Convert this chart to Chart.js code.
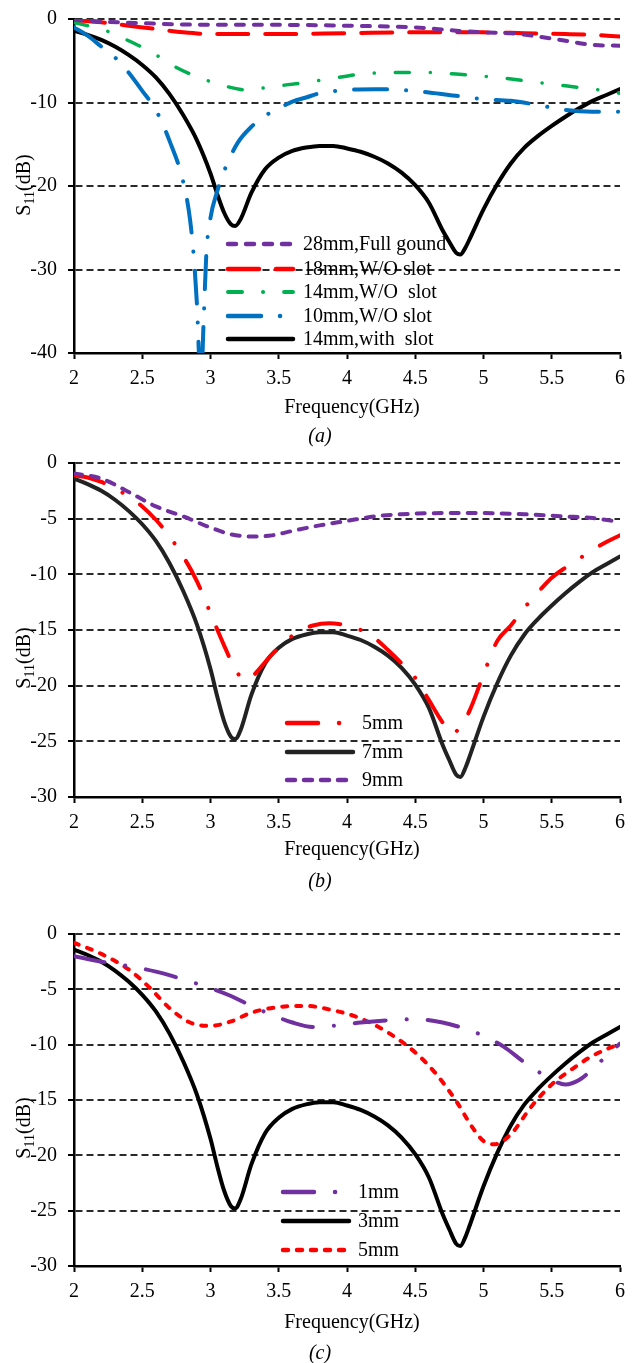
<!DOCTYPE html>
<html>
<head>
<meta charset="utf-8">
<script src="https://cdn.jsdelivr.net/npm/chart.js@4.4.1/dist/chart.umd.min.js"></script>
<style>
  body { margin: 0; background: #fff; }
  .panel { position: absolute; left: 0; }
</style>
</head>
<body>
<canvas id="chartA" class="panel" width="639" height="454" style="top:-4px"></canvas>
<canvas id="chartB" class="panel" width="639" height="460" style="top:440px"></canvas>
<canvas id="chartC" class="panel" width="639" height="452" style="top:911px"></canvas>
<script>
// black curve (same antenna in all three panels)
const freqSlot = [2.0, 2.1, 2.2, 2.3, 2.4, 2.5, 2.6, 2.7, 2.8, 2.9, 3.0, 3.05, 3.1, 3.15, 3.18, 3.22, 3.3, 3.4, 3.5, 3.6, 3.7, 3.8, 3.9, 4.0, 4.1, 4.2, 4.3, 4.4, 4.5, 4.6, 4.7, 4.75, 4.8, 4.83, 4.87, 4.9, 5.0, 5.1, 5.2, 5.3, 5.4, 5.5, 5.6, 5.7, 5.8, 5.9, 6.0];
const s11Slot = [-1.4, -1.9, -2.5, -3.3, -4.3, -5.5, -7.0, -9.0, -11.5, -14.5, -18.5, -21, -23.2, -24.6, -24.8, -24.0, -20.8, -18.0, -16.6, -15.8, -15.4, -15.2, -15.2, -15.5, -15.9, -16.5, -17.3, -18.4, -19.9, -22.0, -25.3, -26.7, -28.0, -28.2, -27.3, -26.3, -22.8, -19.8, -17.3, -15.4, -14.0, -12.8, -11.7, -10.7, -9.8, -9.1, -8.4];

// (a)
const freqFull28 = [2.0, 2.2, 2.5, 3.0, 3.5, 4.0, 4.3, 4.5, 4.8, 5.0, 5.2, 5.4, 5.6, 5.8, 6.0];
const s11Full28 = [-0.1, -0.3, -0.5, -0.7, -0.7, -0.8, -0.9, -1.0, -1.4, -1.6, -1.7, -2.1, -2.6, -3.1, -3.2];
const freqNoSlot18 = [2.0, 2.2, 2.4, 2.6, 2.8, 3.0, 3.2, 3.5, 4.0, 4.5, 4.8, 5.0, 5.3, 5.6, 5.8, 6.0];
const s11NoSlot18 = [-0.1, -0.4, -0.8, -1.2, -1.6, -1.8, -1.8, -1.8, -1.7, -1.6, -1.6, -1.6, -1.7, -1.8, -1.9, -2.1];
const freqNoSlot14 = [2.0, 2.1, 2.25, 2.4, 2.57, 2.75, 2.9, 3.1, 3.27, 3.45, 3.65, 3.9, 4.1, 4.4, 4.6, 4.8, 5.1, 5.4, 5.6, 5.85, 6.0];
const s11NoSlot14 = [-0.4, -0.8, -1.5, -2.6, -4.0, -5.8, -6.9, -8.0, -8.5, -8.1, -7.7, -7.1, -6.6, -6.4, -6.4, -6.6, -7.0, -7.6, -8.0, -8.5, -8.9];
const freqNoSlot10 = [2.0, 2.1, 2.2, 2.3, 2.4, 2.5, 2.6, 2.7, 2.8, 2.85, 2.88, 2.9, 2.93, 2.95, 2.97, 3.0, 3.05, 3.1, 3.2, 3.3, 3.4, 3.5, 3.6, 3.7, 3.8, 4.0, 4.2, 4.4, 4.6, 4.8, 5.0, 5.2, 5.4, 5.6, 5.8, 6.0];
const s11NoSlot10 = [-1.0, -2.0, -3.3, -4.6, -6.4, -8.6, -10.9, -14.6, -19.5, -24, -29, -34, -44, -36, -28, -23.8, -20.6, -18.2, -14.8, -12.9, -11.6, -10.7, -9.9, -9.4, -8.9, -8.5, -8.4, -8.5, -8.8, -9.2, -9.6, -9.8, -10.3, -10.9, -11.1, -11.1];

// (b)
const freqW5 = [2.0, 2.1, 2.2, 2.3, 2.4, 2.5, 2.6, 2.7, 2.8, 2.9, 3.0, 3.1, 3.2, 3.27, 3.35, 3.45, 3.55, 3.65, 3.75, 3.87, 4.0, 4.1, 4.2, 4.3, 4.4, 4.5, 4.6, 4.7, 4.77, 4.83, 4.9, 5.0, 5.1, 5.2, 5.3, 5.4, 5.5, 5.6, 5.7, 5.8, 5.9, 6.0];
const s11W5 = [-1.1, -1.3, -1.7, -2.3, -3.0, -3.9, -5.1, -6.6, -8.4, -10.6, -13.5, -16.4, -18.9, -19.5, -18.6, -17.2, -16.0, -15.1, -14.6, -14.4, -14.6, -15.0, -15.7, -16.8, -18.0, -19.3, -21.3, -23.3, -24.3, -23.7, -22.2, -19.0, -16.0, -14.6, -13.0, -11.6, -10.3, -9.4, -8.6, -7.8, -7.1, -6.5];
const freqW9 = [2.0, 2.2, 2.4, 2.6, 2.8, 3.0, 3.15, 3.3, 3.45, 3.6, 3.8, 4.0, 4.2, 4.4, 4.7, 5.0, 5.3, 5.6, 5.8, 6.0];
const s11W9 = [-0.95, -1.4, -2.6, -3.9, -4.8, -5.8, -6.4, -6.6, -6.5, -6.1, -5.6, -5.2, -4.8, -4.6, -4.5, -4.5, -4.6, -4.8, -4.95, -5.3];

// (c)
const freqL1 = [2.0, 2.2, 2.4, 2.6, 2.8, 3.0, 3.15, 3.3, 3.45, 3.6, 3.75, 3.9, 4.1, 4.3, 4.5, 4.7, 4.85, 5.0, 5.15, 5.3, 5.45, 5.6, 5.7, 5.85, 6.0];
const s11L1 = [-2.0, -2.5, -2.9, -3.4, -4.1, -4.9, -5.6, -6.5, -7.3, -8.0, -8.4, -8.3, -8.0, -7.8, -7.7, -8.0, -8.5, -9.2, -10.2, -11.6, -12.8, -13.6, -13.2, -11.6, -9.9];
const freqL5 = [2.0, 2.2, 2.4, 2.55, 2.7, 2.85, 3.0, 3.15, 3.3, 3.5, 3.7, 3.9, 4.05, 4.2, 4.35, 4.5, 4.65, 4.8, 4.92, 5.0, 5.08, 5.2, 5.35, 5.5, 5.65, 5.8, 6.0];
const s11L5 = [-0.8, -1.8, -3.2, -4.8, -6.7, -8.0, -8.3, -7.9, -7.1, -6.6, -6.5, -6.9, -7.4, -8.2, -9.3, -10.7, -12.6, -15.1, -17.5, -18.7, -19.0, -18.1, -15.6, -13.6, -12.2, -11.0, -9.9];

const PURPLE = '#7030A0', RED = '#FF0000', GREEN = '#00B050', BLUE = '#0070C0';
const SERIF = "'Liberation Serif', 'Times New Roman', serif";

function pts(freq, vals) {
    return freq.map((f, i) => ({ x: f, y: vals[i] }));
}

function line(label, freq, vals, color, width, dash) {
    return {
        label: label,
        data: pts(freq, vals),
        borderColor: color,
        borderWidth: width,
        borderDash: dash,
        borderCapStyle: 'round',
        borderJoinStyle: 'round',
        pointRadius: 0,
        fill: false,
        cubicInterpolationMode: 'monotone'
    };
}

const paperText = {
    id: 'paperText',
    afterDatasetsDraw(chart, args, opts) {
        const ctx = chart.ctx;
        ctx.save();
        // legend, drawn inside the plot
        ctx.font = '20px ' + SERIF;
        ctx.textBaseline = 'middle';
        ctx.textAlign = 'left';
        ctx.fillStyle = '#000';
        opts.legendOrder.forEach((dsIndex, i) => {
            const ds = chart.data.datasets[dsIndex];
            const y = opts.legendRows[i];
            ctx.save();
            ctx.strokeStyle = ds.borderColor;
            ctx.lineWidth = ds.borderWidth + 0.5;
            ctx.lineCap = 'round';
            ctx.setLineDash(ds.borderDash || []);
            ctx.beginPath();
            ctx.moveTo(opts.legendX0, y);
            ctx.lineTo(opts.legendX1, y);
            ctx.stroke();
            ctx.restore();
            ctx.fillText(ds.label, opts.legendText, y + 1);
        });
        // x title and caption
        ctx.textAlign = 'center';
        ctx.font = '20px ' + SERIF;
        ctx.fillText('Frequency(GHz)', 352, opts.xTitleY);
        ctx.font = 'italic 20px ' + SERIF;
        ctx.fillText(opts.caption, 320, opts.captionY);
        // y title with subscript
        ctx.translate(23, opts.yTitleY);
        ctx.rotate(-Math.PI / 2);
        ctx.textAlign = 'left';
        ctx.textBaseline = 'alphabetic';
        const big = '20px ' + SERIF, small = '14px ' + SERIF;
        ctx.font = big;
        const wS = ctx.measureText('S').width, wB = ctx.measureText('(dB)').width;
        ctx.font = small;
        const w11 = ctx.measureText('11').width;
        let x = -(wS + w11 + wB) / 2;
        ctx.font = big;
        ctx.fillText('S', x, 7);
        x += wS;
        ctx.font = small;
        ctx.fillText('11', x, 11);
        x += w11;
        ctx.font = big;
        ctx.fillText('(dB)', x, 7);
        ctx.restore();
    }
};

function makeChart(id, datasets, yMin, yStep, xAxisH, textOpts) {
    const canvas = document.getElementById(id);
    return new Chart(canvas.getContext('2d'), {
        type: 'line',
        data: { datasets: datasets },
        options: {
            responsive: false,
            animation: false,
            layout: { padding: { left: 0, right: 19, top: 20, bottom: 0 } },
            plugins: {
                legend: { display: false },
                tooltip: { enabled: false },
                paperText: textOpts
            },
            scales: {
                x: {
                    type: 'linear',
                    min: 2,
                    max: 6,
                    afterFit: s => { s.height = xAxisH; },
                    ticks: {
                        stepSize: 0.5,
                        color: '#000',
                        padding: 8,
                        font: { family: SERIF, size: 20 },
                        callback: v => String(+v.toFixed(1))
                    },
                    grid: { drawOnChartArea: false, drawTicks: true, tickLength: 6, tickColor: '#000', tickWidth: 2 },
                    border: { color: '#000', width: 2.5 }
                },
                y: {
                    min: yMin,
                    max: 0,
                    afterFit: s => { s.width = 74; },
                    ticks: { stepSize: yStep, color: '#000', padding: 11, font: { family: SERIF, size: 20 } },
                    grid: {
                        color: c => c.tick && c.tick.value === yMin ? 'rgba(0,0,0,0)' : '#2a2a2a',
                        lineWidth: 2,
                        drawTicks: true,
                        tickLength: 6,
                        tickColor: '#000',
                        tickWidth: 2,
                        tickBorderDash: []
                    },
                    border: { color: '#000', width: 2.5, dash: [7, 4] }
                }
            }
        },
        plugins: [paperText]
    });
}

makeChart('chartA', [
    line('28mm,Full gound', freqFull28, s11Full28, PURPLE, 4, [8, 10]),
    line('18mm,W/O slot', freqNoSlot18, s11NoSlot18, RED, 4, [31, 17]),
    line('14mm,W/O  slot', freqNoSlot14, s11NoSlot14, GREEN, 3.5, [14, 21, 0.1, 21]),
    line('10mm,W/O slot', freqNoSlot10, s11NoSlot10, BLUE, 4, [33, 19, 0.1, 19]),
    line('14mm,with  slot', freqSlot, s11Slot, '#000', 4, [])
], -40, 10, 97, {
    legendOrder: [0, 1, 2, 3, 4],
    legendRows: [248, 273, 296, 320, 343],
    legendX0: 228, legendX1: 293, legendText: 303,
    xTitleY: 412, captionY: 441, yTitleY: 189, caption: '(a)'
});

makeChart('chartB', [
    line('9mm', freqW9, s11W9, PURPLE, 4, [8, 9]),
    line('5mm', freqW5, s11W5, RED, 4, [31, 21, 0.1, 21]),
    line('7mm', freqSlot, s11Slot, '#222', 4, [])
], -30, 5, 103, {
    legendOrder: [1, 2, 0],
    legendRows: [283, 312, 340],
    legendX0: 287, legendX1: 353, legendText: 362,
    xTitleY: 410, captionY: 442, yTitleY: 218, caption: '(b)'
});

makeChart('chartC', [
    line('1mm', freqL1, s11L1, PURPLE, 4, [31, 21, 0.1, 21]),
    line('5mm', freqL5, s11L5, RED, 4, [5, 9]),
    line('3mm', freqSlot, s11Slot, '#000', 4, [])
], -30, 5, 97, {
    legendOrder: [0, 2, 1],
    legendRows: [281, 310, 339],
    legendX0: 283, legendX1: 349, legendText: 358,
    xTitleY: 412, captionY: 443, yTitleY: 217, caption: '(c)'
});
</script>
</body>
</html>
